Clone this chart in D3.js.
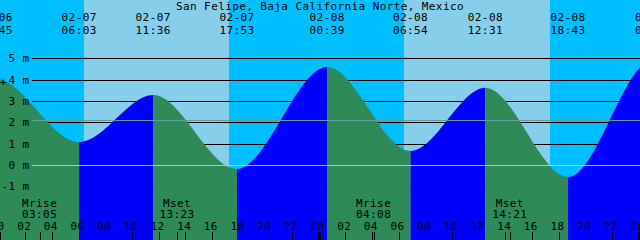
<!DOCTYPE html>
<html>
<head>
<meta charset="utf-8">
<script src="https://cdn.jsdelivr.net/npm/d3@7"></script>
<style>
  body { margin: 0; background: #fff; }
  svg text { font-family: "DejaVu Sans Mono", monospace; font-size: 11px; letter-spacing: 0.4px; fill: #000; }
</style>
</head>
<body>
<div id="chart"></div>
<script>
// tide extremes (date, time, level in metres)
const tideDates = ["02-06", "02-07", "02-07", "02-07", "02-08", "02-08", "02-08", "02-08", "02-09"];
const tideTimes = ["23:45", "06:03", "11:36", "17:53", "00:39", "06:54", "12:31", "18:43", "01:03"];
const tideLevels = [4.05, 1.07, 3.28, -0.19, 4.59, 0.66, 3.62, -0.56, 4.9];

// sun and moon
const sunriseTimes = ["02-07 06:25", "02-08 06:24"];
const sunsetTimes = ["02-07 17:17", "02-08 17:22"];
const moonLabels = ["Mrise", "Mset", "Mrise", "Mset"];
const moonTimes = ["02-07 03:05", "02-07 13:23", "02-08 04:08", "02-08 14:21"];

// axis
const levelTicks = [-1, 0, 1, 2, 3, 4, 5];
const mslLevel = 2.1;
const hourTicks = d3.range(0, 49, 2);
const chartTitle = "San Felipe, Baja California Norte, Mexico";

// d3 curve: cubic between extremes with a flat tangent at each high and low
function TideCurve(context) { this._context = context; }
TideCurve.prototype = {
  areaStart: function () { this._line = 0; },
  areaEnd: function () { this._line = NaN; },
  lineStart: function () { this._point = 0; },
  lineEnd: function () {
    if (this._line || (this._line !== 0 && this._point === 1)) this._context.closePath();
    this._line = 1 - this._line;
  },
  point: function (x, y) {
    x = +x; y = +y;
    if (this._point === 0) {
      this._point = 1;
      this._line ? this._context.lineTo(x, y) : this._context.moveTo(x, y);
    } else {
      const dx = (x - this._x0) / 3;
      this._context.bezierCurveTo(this._x0 + dx, this._y0, x - dx, y, x, y);
    }
    this._x0 = x; this._y0 = y;
  }
};
const curveTide = function (context) { return new TideCurve(context); };

(function () {
  const svg_width = 640, svg_height = 240;

  // hours counted from 02-07 00:00
  function toHours(date, time) {
    const day = +date.slice(3) - 7;
    const hm = time.split(":");
    return day * 24 + (+hm[0]) + (+hm[1]) / 60;
  }
  const tide = tideDates.map((d, i) => ({ date: d, time: tideTimes[i], t: toHours(d, tideTimes[i]), v: tideLevels[i] }));

  const x = d3.scaleLinear().domain([0, 48]).range([-1.5, 638.5]);
  const y = d3.scaleLinear().domain([0, 5]).range([165, 58.35]);

  const svg = d3.select("#chart").append("svg")
    .attr("width", svg_width)
    .attr("height", svg_height);

  // sky: night everywhere, then day bands
  svg.append("rect")
    .attr("width", svg_width).attr("height", svg_height)
    .attr("fill", "#00bfff");
  sunriseTimes.forEach(function (s, i) {
    const a = x(toHours(s.slice(0, 5), s.slice(6)));
    const b = x(toHours(sunsetTimes[i].slice(0, 5), sunsetTimes[i].slice(6)));
    svg.append("rect")
      .attr("x", Math.round(a)).attr("y", 0)
      .attr("width", Math.round(b) - Math.round(a)).attr("height", svg_height)
      .attr("fill", "#87ceeb");
  });

  // black level lines (behind water)
  svg.selectAll(".grid")
    .data(levelTicks)
    .enter().append("line")
    .attr("x1", 32).attr("x2", svg_width)
    .attr("y1", d => Math.round(y(d)) + 0.5)
    .attr("y2", d => Math.round(y(d)) + 0.5)
    .attr("stroke", "#000")
    .attr("shape-rendering", "crispEdges");

  // water: blue while rising, green while falling
  const area = d3.area()
    .x(d => x(d.t))
    .y0(svg_height)
    .y1(d => y(d.v))
    .curve(curveTide);
  const defs = svg.append("defs");
  for (let i = 0; i < tide.length - 1; i++) {
    const a = tide[i], b = tide[i + 1];
    defs.append("clipPath").attr("id", "seg" + i)
      .append("rect")
      .attr("x", x(a.t)).attr("y", 0)
      .attr("width", x(b.t) - x(a.t)).attr("height", svg_height);
    svg.append("path")
      .datum(tide)
      .attr("d", area)
      .attr("clip-path", "url(#seg" + i + ")")
      .attr("fill", b.v > a.v ? "#0000ff" : "#2e8b57");
  }

  // mean sea level and datum lines
  svg.append("line")
    .attr("x1", 32).attr("x2", svg_width)
    .attr("y1", Math.round(y(mslLevel)) + 0.5).attr("y2", Math.round(y(mslLevel)) + 0.5)
    .attr("stroke", "#5f9ea0")
    .attr("shape-rendering", "crispEdges");
  svg.append("line")
    .attr("x1", 32).attr("x2", svg_width)
    .attr("y1", Math.round(y(0)) + 0.5).attr("y2", Math.round(y(0)) + 0.5)
    .attr("stroke", "#8fd3e6")
    .attr("shape-rendering", "crispEdges");

  // level labels
  svg.selectAll(".ylab")
    .data(levelTicks)
    .enter().append("text")
    .attr("x", 29.5)
    .attr("y", d => y(d) + 4)
    .attr("text-anchor", "end")
    .text(d => d + " m");
  svg.append("text").attr("x", 0).attr("y", 86).text("+");

  // title
  svg.append("text")
    .attr("x", svg_width / 2).attr("y", 9.5)
    .attr("text-anchor", "middle")
    .text(chartTitle);

  // tide event labels
  svg.selectAll(".tdate")
    .data(tide)
    .enter().append("text")
    .attr("x", d => x(d.t)).attr("y", 21)
    .attr("text-anchor", "middle")
    .text(d => d.date);
  svg.selectAll(".ttime")
    .data(tide)
    .enter().append("text")
    .attr("x", d => x(d.t)).attr("y", 33.5)
    .attr("text-anchor", "middle")
    .text(d => d.time);

  // moon events
  const moon = moonTimes.map((s, i) => ({ label: moonLabels[i], time: s.slice(6), t: toHours(s.slice(0, 5), s.slice(6)) }));
  svg.selectAll(".mlab")
    .data(moon)
    .enter().append("text")
    .attr("x", d => x(d.t)).attr("y", 206.5)
    .attr("text-anchor", "middle")
    .text(d => d.label);
  svg.selectAll(".mtime")
    .data(moon)
    .enter().append("text")
    .attr("x", d => x(d.t)).attr("y", 217.5)
    .attr("text-anchor", "middle")
    .text(d => d.time);
  svg.selectAll(".mtick")
    .data(moon)
    .enter().append("line")
    .attr("x1", d => Math.round(x(d.t)) + 0.5).attr("x2", d => Math.round(x(d.t)) + 0.5)
    .attr("y1", 232).attr("y2", svg_height)
    .attr("stroke", "#000")
    .attr("shape-rendering", "crispEdges");

  // hour ticks and labels
  svg.selectAll(".htick")
    .data(hourTicks)
    .enter().append("line")
    .attr("x1", d => Math.round(x(d)) + 0.5).attr("x2", d => Math.round(x(d)) + 0.5)
    .attr("y1", 232).attr("y2", svg_height)
    .attr("stroke", "#000")
    .attr("stroke-width", d => d % 24 === 0 ? 3 : 1)
    .attr("shape-rendering", "crispEdges");
  svg.selectAll(".hlab")
    .data(hourTicks)
    .enter().append("text")
    .attr("x", d => x(d) - 1).attr("y", 230)
    .attr("text-anchor", "middle")
    .text(d => d3.format("02")(d % 24));
})();
</script>
</body>
</html>
